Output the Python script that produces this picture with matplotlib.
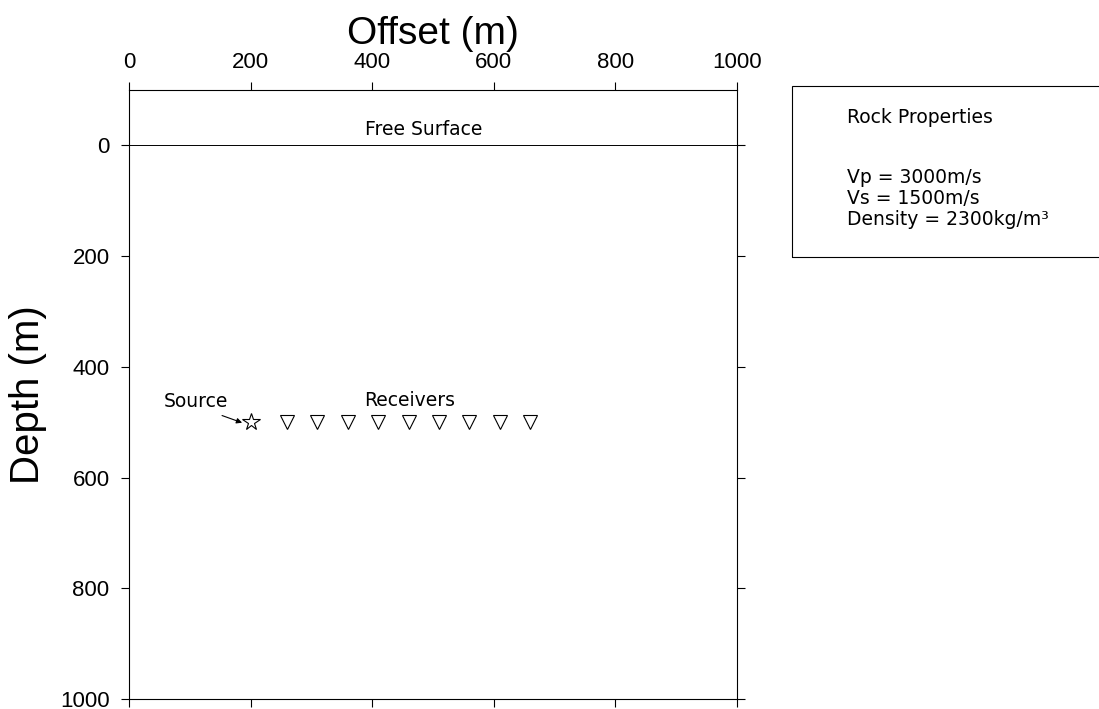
import matplotlib
matplotlib.use('agg')
from matplotlib import pyplot as plt
from matplotlib.patches import Rectangle

plt.rcParams['font.family'] = ['Liberation Sans', 'DejaVu Sans']

# model geometry (metres)
source_x = [200]
source_z = [500]
receiver_x = [260, 310, 360, 410, 460, 510, 560, 610, 660]
receiver_z = [500, 500, 500, 500, 500, 500, 500, 500, 500]
surface_x = [0, 1000]
surface_z = [0, 0]

x_ticks = [0, 200, 400, 600, 800, 1000]
z_ticks = [0, 200, 400, 600, 800, 1000]

rock_lines = ['Vp = 3000m/s', 'Vs = 1500m/s', 'Density = 2300kg/m\u00b3']

note_font = dict(family=['DejaVu Sans'], fontsize=13.5)

fig = plt.figure(figsize=(10.99, 7.09), dpi=100)
ax = fig.add_axes([0.1174, 0.0141, 0.5532, 0.859])

ax.plot(surface_x, surface_z, color='black', lw=0.7)
ax.plot(source_x, source_z, marker='*', ms=13, mfc='white', mec='black',
        mew=0.8, ls='none')
ax.plot(receiver_x, receiver_z, marker='v', ms=10, mfc='white', mec='black',
        mew=0.8, ls='none')

ax.text(485, -29, 'Free Surface', ha='center', va='center', **note_font)
ax.text(110, 462, 'Source', ha='center', va='center', **note_font)
ax.text(462, 461, 'Receivers', ha='center', va='center', **note_font)
ax.annotate('', xy=(186, 501), xytext=(153, 488),
            arrowprops=dict(arrowstyle='-|>', color='black', lw=0.8,
                            mutation_scale=8, shrinkA=0, shrinkB=0))

ax.set_xlim(0, 1000)
ax.set_ylim(1000, -100)
ax.set_xticks(x_ticks)
ax.set_yticks(z_ticks)
ax.xaxis.set_label_position('top')
ax.tick_params(axis='both', direction='out', length=6, width=0.8,
               labelsize=16, pad=6)
ax.tick_params(axis='x', top=True, bottom=True, labeltop=True,
               labelbottom=False)
ax.tick_params(axis='y', left=True, right=True, labelleft=True,
               labelright=False, pad=8)
for s in ax.spines.values():
    s.set_linewidth(0.8)

ax.set_xlabel('Offset (m)', fontsize=28, labelpad=6)
ax.set_ylabel('Depth (m)', fontsize=29, labelpad=9)

# rock properties box
fig.patches.append(Rectangle((0.7207, 0.6375), 0.4, 0.2412,
                             transform=fig.transFigure, fill=False,
                             edgecolor='black', lw=0.8))
fig.text(0.7707, 0.8336, 'Rock Properties', va='center', **note_font)
for i, line in enumerate(rock_lines):
    fig.text(0.7707, 0.7503 - i * 0.0296, line, va='center', **note_font)

plt.savefig('out.png', dpi=100)
